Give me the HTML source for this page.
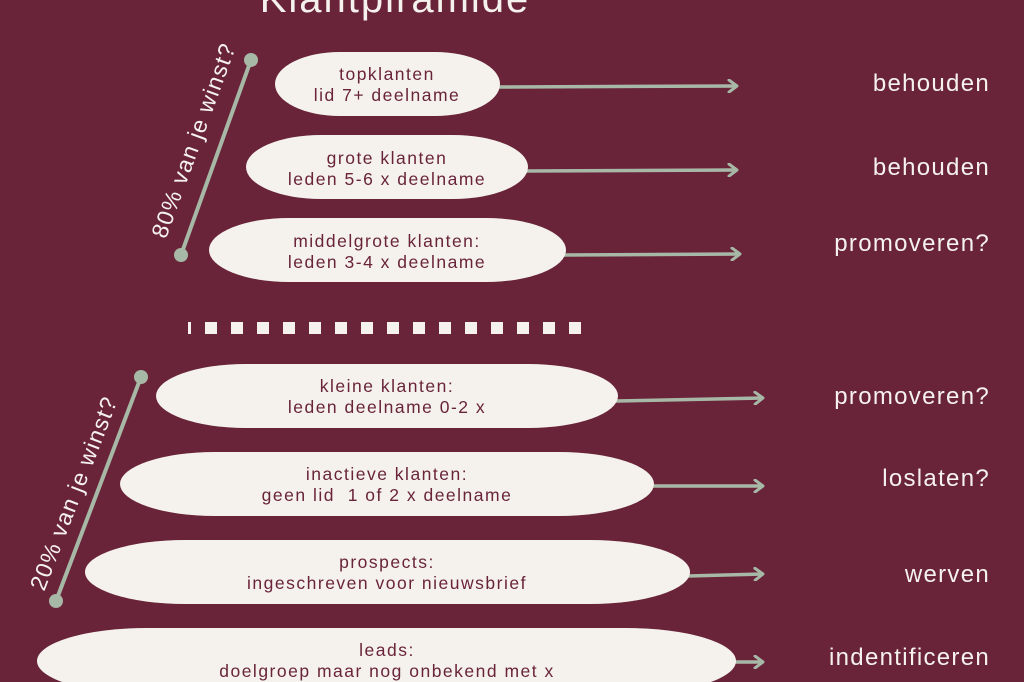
<!DOCTYPE html>
<html><head><meta charset="utf-8"><style>
html,body{margin:0;padding:0;background:#69243a;}
svg{display:block}
</style></head><body>
<svg width="1024" height="682" viewBox="0 0 1024 682" xmlns="http://www.w3.org/2000/svg" font-family="'Liberation Sans', sans-serif">
<rect width="1024" height="682" fill="#69243a"/>
<text x="395" y="12" text-anchor="middle" font-size="40" fill="#f5f2ee" letter-spacing="2">Klantpiramide</text>
<defs>
<marker id="ah" markerWidth="12" markerHeight="14" refX="10" refY="7" orient="auto" markerUnits="userSpaceOnUse">
<path d="M2,1 L10,7 L2,13" fill="none" stroke="#a8b8a6" stroke-width="3" stroke-linecap="round" stroke-linejoin="round"/>
</marker>
</defs>
<g stroke="#a8b8a6" stroke-width="3.5" marker-end="url(#ah)">
<line x1="498" y1="87" x2="737" y2="86"/>
<line x1="526" y1="171" x2="737" y2="170"/>
<line x1="564" y1="255" x2="740" y2="254"/>
<line x1="616" y1="401" x2="763" y2="398"/>
<line x1="652" y1="486" x2="763" y2="486"/>
<line x1="688" y1="576" x2="763" y2="574"/>
<line x1="734" y1="662" x2="763" y2="662"/>
</g>
<g fill="#f5f2ee">
<rect x="275" y="52" width="225" height="64" rx="65" ry="32"/>
<rect x="246" y="135" width="282" height="64" rx="75" ry="32"/>
<rect x="209" y="218" width="357" height="64" rx="80" ry="32"/>
<rect x="156" y="364" width="462" height="64" rx="90" ry="32"/>
<rect x="120" y="452" width="534" height="64" rx="95" ry="32"/>
<rect x="85" y="540" width="605" height="64" rx="100" ry="32"/>
<rect x="37" y="628" width="699" height="66" rx="110" ry="33"/>
</g>
<g fill="#69243a" font-size="17.5" text-anchor="middle" letter-spacing="1.5">
<text x="387" y="80">topklanten</text><text x="387" y="101">lid 7+ deelname</text>
<text x="387" y="164">grote klanten</text><text x="387" y="185">leden 5-6 x deelname</text>
<text x="387" y="247">middelgrote klanten:</text><text x="387" y="268">leden 3-4 x deelname</text>
<text x="387" y="392">kleine klanten:</text><text x="387" y="413">leden deelname 0-2 x</text>
<text x="387" y="480">inactieve klanten:</text><text x="387" y="501">geen lid&#160; 1 of 2 x deelname</text>
<text x="387" y="568">prospects:</text><text x="387" y="589">ingeschreven voor nieuwsbrief</text>
<text x="387" y="656">leads:</text><text x="387" y="677">doelgroep maar nog onbekend met x</text>
</g>
<g fill="#f5f2ee" font-size="24" text-anchor="end" letter-spacing="1.3">
<text x="990" y="91">behouden</text>
<text x="990" y="175">behouden</text>
<text x="990" y="251">promoveren?</text>
<text x="990" y="404">promoveren?</text>
<text x="990" y="486">loslaten?</text>
<text x="990" y="582">werven</text>
<text x="990" y="665">indentificeren</text>
</g>
<g fill="#f5f2ee">
<rect x="188" y="322" width="3" height="12"/>
<rect x="205" y="322" width="12" height="12"/><rect x="231" y="322" width="12" height="12"/><rect x="257" y="322" width="12" height="12"/><rect x="283" y="322" width="12" height="12"/><rect x="309" y="322" width="12" height="12"/><rect x="335" y="322" width="12" height="12"/><rect x="361" y="322" width="12" height="12"/><rect x="387" y="322" width="12" height="12"/><rect x="413" y="322" width="12" height="12"/><rect x="439" y="322" width="12" height="12"/><rect x="465" y="322" width="12" height="12"/><rect x="491" y="322" width="12" height="12"/><rect x="517" y="322" width="12" height="12"/><rect x="543" y="322" width="12" height="12"/><rect x="569" y="322" width="12" height="12"/>
</g>
<g stroke="#a8b8a6" stroke-width="4" fill="#a8b8a6">
<line x1="251" y1="60" x2="181" y2="255"/>
<circle cx="251" cy="60" r="7" stroke="none"/><circle cx="181" cy="255" r="7" stroke="none"/>
<line x1="141" y1="377" x2="56" y2="601"/>
<circle cx="141" cy="377" r="7" stroke="none"/><circle cx="56" cy="601" r="7" stroke="none"/>
</g>
<g fill="#f5f2ee" font-size="23" text-anchor="middle" letter-spacing="1.2">
<text transform="translate(201,143) rotate(-70)">80% van je winst?</text>
<text transform="translate(81,496) rotate(-69)">20% van je winst?</text>
</g>
</svg>
</body></html>
